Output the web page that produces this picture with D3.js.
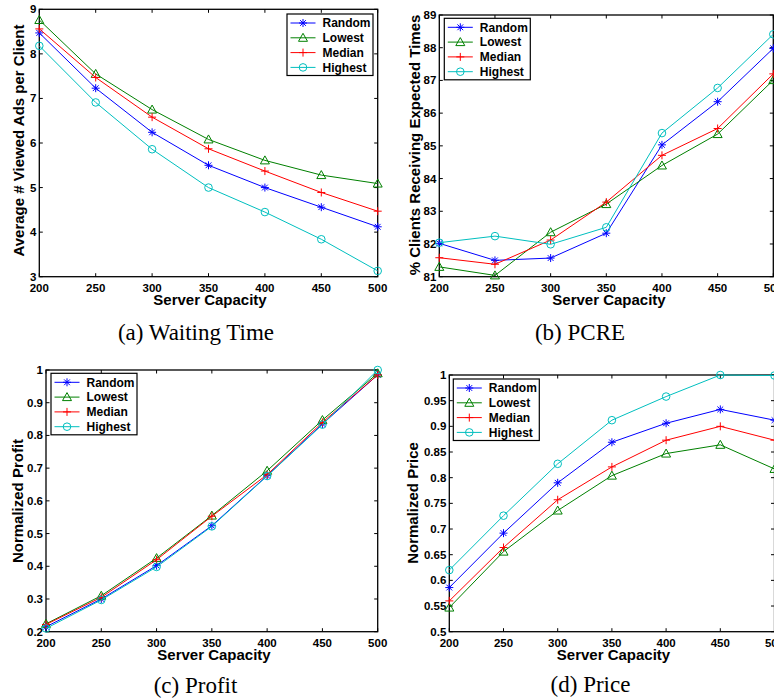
<!DOCTYPE html>
<html>
<head>
<meta charset="utf-8">
<title>Server Capacity Results</title>
<script src="https://cdn.jsdelivr.net/npm/d3@7"></script>
<style>
  body { margin: 0; background: #fff; }
  svg { display: block; }
  .tick-label, .axis-title, .legend-text {
    font-family: "Liberation Sans", Arial, Helvetica, sans-serif;
    font-weight: bold;
  }
  .caption { font-family: "Liberation Serif", "Times New Roman", serif; }
</style>
</head>
<body>
<svg id="chart"></svg>
<script>

    // Data
    var capacity = [200, 250, 300, 350, 400, 450, 500];
    var seriesNames = ["Random", "Lowest", "Median", "Highest"];

    var waitRandom  = [8.47, 7.23, 6.24, 5.50, 5.00, 4.56, 4.12];
    var waitLowest  = [8.76, 7.55, 6.75, 6.08, 5.61, 5.28, 5.09];
    var waitMedian  = [8.56, 7.47, 6.58, 5.87, 5.37, 4.89, 4.47];
    var waitHighest = [8.18, 6.91, 5.86, 5.00, 4.45, 3.84, 3.13];

    var pcreRandom  = [82.02, 81.50, 81.57, 82.33, 85.03, 86.35, 87.98];
    var pcreLowest  = [81.30, 81.04, 82.36, 83.22, 84.40, 85.36, 87.01];
    var pcreMedian  = [81.58, 81.38, 82.12, 83.28, 84.71, 85.53, 87.20];
    var pcreHighest = [82.04, 82.24, 81.99, 82.51, 85.39, 86.77, 88.41];

    var profitRandom  = [0.215, 0.300, 0.402, 0.524, 0.677, 0.835, 0.985];
    var profitLowest  = [0.224, 0.310, 0.425, 0.555, 0.692, 0.847, 0.990];
    var profitMedian  = [0.222, 0.305, 0.420, 0.553, 0.680, 0.840, 0.985];
    var profitHighest = [0.210, 0.297, 0.398, 0.522, 0.676, 0.833, 1.000];

    var priceRandom  = [0.586, 0.692, 0.790, 0.869, 0.906, 0.933, 0.912];
    var priceLowest  = [0.547, 0.656, 0.736, 0.804, 0.847, 0.864, 0.817];
    var priceMedian  = [0.560, 0.664, 0.757, 0.821, 0.873, 0.900, 0.873];
    var priceHighest = [0.620, 0.726, 0.827, 0.912, 0.958, 1.000, 0.999];

    // Tick values and labels
    var xTickLabels = ["200", "250", "300", "350", "400", "450", "500"];
    var waitTicks = [3, 4, 5, 6, 7, 8, 9];
    var waitTickLabels = ["3", "4", "5", "6", "7", "8", "9"];
    var pcreTicks = [81, 82, 83, 84, 85, 86, 87, 88, 89];
    var pcreTickLabels = ["81", "82", "83", "84", "85", "86", "87", "88", "89"];
    var profitTicks = [0.2, 0.3, 0.4, 0.5, 0.6, 0.7, 0.8, 0.9, 1];
    var profitTickLabels = ["0.2", "0.3", "0.4", "0.5", "0.6", "0.7", "0.8", "0.9", "1"];
    var priceTicks = [0.5, 0.55, 0.6, 0.65, 0.7, 0.75, 0.8, 0.85, 0.9, 0.95, 1];
    var priceTickLabels = ["0.5", "0.55", "0.6", "0.65", "0.7", "0.75", "0.8", "0.85", "0.9", "0.95", "1"];

    // Styles (matlab-ish)
    var colors = ["#0000ff", "#008000", "#ff0000", "#00bfbf"];
    var markers = ["asterisk", "triangle", "plus", "circle"];

    var width = 774;
    var height = 700;

    var svg = d3.select("#chart")
        .attr("width", width)
        .attr("height", height);

    // Build a path string for each marker type, centred on 0,0
    function markerPath(kind) {
        var s = 4;
        if (kind === "asterisk") {
            var d = s * 0.72;
            return "M" + (-s) + ",0L" + s + ",0M0," + (-s) + "L0," + s +
                   "M" + (-d) + "," + (-d) + "L" + d + "," + d +
                   "M" + (-d) + "," + d + "L" + d + "," + (-d);
        }
        if (kind === "plus") {
            return "M" + (-s) + ",0L" + s + ",0M0," + (-s) + "L0," + s;
        }
        if (kind === "triangle") {
            return "M0," + (-s - 0.5) + "L" + (s + 0.5) + "," + (s - 0.5) + "L" + (-s - 0.5) + "," + (s - 0.5) + "Z";
        }
        // circle
        return d3.arc()({ innerRadius: 0, outerRadius: 3.8, startAngle: 0, endAngle: 2 * Math.PI });
    }

    function drawMarker(g, kind, color, x, y) {
        g.append("path")
            .attr("d", markerPath(kind))
            .attr("transform", "translate(" + x + "," + y + ")")
            .attr("fill", "none")
            .attr("stroke", color)
            .attr("stroke-width", 1);
    }

    function drawPanel(p) {
        var g = svg.append("g");

        var x = d3.scaleLinear().domain([200, 500]).range([p.left, p.right]);
        var y = d3.scaleLinear().domain([p.ticks[0], p.ticks[p.ticks.length - 1]]).range([p.bottom, p.top]);

        // box
        g.append("rect")
            .attr("x", p.left).attr("y", p.top)
            .attr("width", p.right - p.left).attr("height", p.bottom - p.top)
            .attr("fill", "none").attr("stroke", "#000").attr("stroke-width", 1.3);

        var tl = 3.5;

        // x ticks, inside on bottom and top
        capacity.forEach(function (v, i) {
            var xx = x(v);
            g.append("line").attr("x1", xx).attr("x2", xx).attr("y1", p.bottom).attr("y2", p.bottom - tl)
                .attr("stroke", "#000");
            g.append("line").attr("x1", xx).attr("x2", xx).attr("y1", p.top).attr("y2", p.top + tl)
                .attr("stroke", "#000");
            g.append("text").attr("class", "tick-label")
                .attr("x", xx).attr("y", p.bottom + 15)
                .attr("text-anchor", "middle")
                .style("font-size", "11.5px")
                .text(xTickLabels[i]);
        });

        // y ticks, inside on left and right
        p.ticks.forEach(function (v, i) {
            var yy = y(v);
            g.append("line").attr("x1", p.left).attr("x2", p.left + tl).attr("y1", yy).attr("y2", yy)
                .attr("stroke", "#000");
            g.append("line").attr("x1", p.right).attr("x2", p.right - tl).attr("y1", yy).attr("y2", yy)
                .attr("stroke", "#000");
            g.append("text").attr("class", "tick-label")
                .attr("x", p.left - 3).attr("y", yy + 4)
                .attr("text-anchor", "end")
                .style("font-size", "11.5px")
                .text(p.tickLabels[i]);
        });

        // series lines and markers
        var line = d3.line()
            .x(function (d, i) { return x(capacity[i]); })
            .y(function (d) { return y(d); });

        p.series.forEach(function (vals, k) {
            g.append("path")
                .attr("d", line(vals))
                .attr("fill", "none")
                .attr("stroke", colors[k])
                .attr("stroke-width", 1);
            vals.forEach(function (v, i) {
                drawMarker(g, markers[k], colors[k], x(capacity[i]), y(v));
            });
        });

        // axis titles
        g.append("text").attr("class", "axis-title")
            .attr("x", p.xTitleX).attr("y", p.bottom + 28)
            .attr("text-anchor", "middle")
            .style("font-size", "15px")
            .text("Server Capacity");

        g.append("text").attr("class", "axis-title")
            .attr("transform", "translate(" + p.yTitleX + "," + p.yTitleY + ")rotate(-90)")
            .attr("text-anchor", "middle")
            .style("font-size", "15px")
            .text(p.yTitle);

        // legend
        var lg = g.append("g").attr("transform", "translate(" + p.legX + "," + p.legY + ")");
        lg.append("rect")
            .attr("x", 0).attr("y", 0).attr("width", 86).attr("height", 61.5)
            .attr("fill", "#fff").attr("stroke", "#000").attr("stroke-width", 1.2);
        seriesNames.forEach(function (name, k) {
            var yy = 9 + k * 14.8;
            lg.append("line").attr("x1", 3.5).attr("x2", 28.5).attr("y1", yy).attr("y2", yy)
                .attr("stroke", colors[k]).attr("stroke-width", 1);
            drawMarker(lg, markers[k], colors[k], 16, yy);
            lg.append("text").attr("class", "legend-text")
                .attr("x", 35.5).attr("y", yy + 4.3)
                .style("font-size", "12px")
                .text(name);
        });

        // sub-caption
        g.append("text").attr("class", "caption")
            .attr("x", p.capX).attr("y", p.capY)
            .attr("text-anchor", "middle")
            .style("font-size", "23px")
            .text(p.caption);
    }

    drawPanel({
        left: 39.3, right: 377.7, top: 9.3, bottom: 276.7,
        ticks: waitTicks, tickLabels: waitTickLabels,
        series: [waitRandom, waitLowest, waitMedian, waitHighest],
        yTitle: "Average # Viewed Ads per Client", yTitleX: 23.5, yTitleY: 140.5,
        xTitleX: 210,
        legX: 287, legY: 14,
        caption: "(a) Waiting Time", capX: 196, capY: 340
    });

    drawPanel({
        left: 439.3, right: 773.3, top: 15, bottom: 276.7,
        ticks: pcreTicks, tickLabels: pcreTickLabels,
        series: [pcreRandom, pcreLowest, pcreMedian, pcreHighest],
        yTitle: "% Clients Receiving Expected Times", yTitleX: 419.5, yTitleY: 145,
        xTitleX: 609,
        legX: 444.3, legY: 18.3,
        caption: "(b) PCRE", capX: 580, capY: 340
    });

    drawPanel({
        left: 46, right: 377.7, top: 370, bottom: 631.7,
        ticks: profitTicks, tickLabels: profitTickLabels,
        series: [profitRandom, profitLowest, profitMedian, profitHighest],
        yTitle: "Normalized Profit", yTitleX: 23, yTitleY: 501,
        xTitleX: 214,
        legX: 51, legY: 373.3,
        caption: "(c) Profit", capX: 195.5, capY: 693
    });

    drawPanel({
        left: 449.3, right: 774.5, top: 375, bottom: 631.7,
        ticks: priceTicks, tickLabels: priceTickLabels,
        series: [priceRandom, priceLowest, priceMedian, priceHighest],
        yTitle: "Normalized Price", yTitleX: 418, yTitleY: 503,
        xTitleX: 613.5,
        legX: 453.3, legY: 379,
        caption: "(d) Price", capX: 590.5, capY: 692
    });

</script>
</body>
</html>
